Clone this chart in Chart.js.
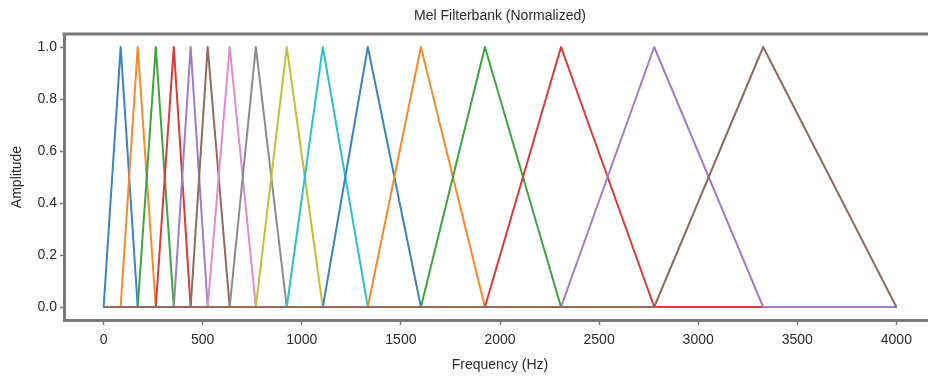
<!DOCTYPE html>
<html>
<head>
<meta charset="utf-8">
<title>Mel Filterbank</title>
<script src="https://cdn.jsdelivr.net/npm/chart.js@4.4.0/dist/chart.umd.min.js"></script>
<style>
  html, body { margin: 0; padding: 0; background: #fff; overflow: hidden; }
  #wrap { width: 940px; height: 377px; }
</style>
</head>
<body>
<div id="wrap"><canvas id="melChart" width="940" height="377"></canvas></div>
<script>
// band edges of the 16 filters (Hz): filter k spans edges[k-1]..edges[k+1], peak at edges[k]
const edgesHz = [0, 86, 172, 263, 354, 439, 525, 636, 768, 924, 1106, 1333, 1601, 1924, 2308, 2778, 3328, 4000];
const peakAmp = 1.0;
const fMax = 4000;
const xTicks = [0, 500, 1000, 1500, 2000, 2500, 3000, 3500, 4000];
const yTicks = [0, 0.2, 0.4, 0.6, 0.8, 1.0];
const filterColors = ['#3b84c0', '#f58a2c', '#3ea43e', '#d93a3b', '#9d7ec6', '#8f6a5e', '#e38acb', '#8a8a8a', '#c0c032', '#2fc0ce'];

const FONT = "'Liberation Sans', Arial, sans-serif";
const TXT = '#2a2a2a';
const SPINE = '#7a7a7a';

const datasets = [];
for (let k = 1; k < edgesHz.length - 1; k++) {
  const i = k - 1;
  datasets.push({
    label: 'filter ' + k,
    data: [
      {x: 0, y: 0},
      {x: edgesHz[k - 1], y: 0},
      {x: edgesHz[k], y: peakAmp},
      {x: edgesHz[k + 1], y: 0},
      {x: fMax, y: 0}
    ],
    showLine: true,
    borderColor: filterColors[i % filterColors.length],
    borderWidth: 2,
    borderJoinStyle: 'round',
    pointRadius: 0,
    tension: 0,
    fill: false,
    order: edgesHz.length - 2 - i  // later filters drawn on top, like matplotlib
  });
}

// top spine (right one falls outside the cropped picture)
const topSpine = {
  id: 'topSpine',
  afterDraw(chart) {
    const {ctx, chartArea: a} = chart;
    ctx.save();
    ctx.strokeStyle = SPINE;
    ctx.lineWidth = 3;
    ctx.beginPath();
    ctx.moveTo(a.left - 1.5, a.top);
    ctx.lineTo(a.right, a.top);
    ctx.stroke();
    ctx.restore();
  }
};

new Chart(document.getElementById('melChart'), {
  type: 'scatter',
  data: {datasets},
  options: {
    responsive: false,
    animation: false,
    devicePixelRatio: 1,
    layout: {padding: {left: 0, right: 4, top: 0, bottom: 0}},
    plugins: {
      legend: {display: false},
      tooltip: {enabled: false},
      title: {
        display: true,
        text: 'Mel Filterbank (Normalized)',
        fullSize: false,
        color: TXT,
        font: {family: FONT, size: 14, weight: 'normal'},
        padding: {top: 8, bottom: 9.2}
      }
    },
    scales: {
      x: {
        type: 'linear',
        min: -200,
        max: 4200,
        afterBuildTicks: s => { s.ticks = xTicks.map(v => ({value: v})); },
        afterFit: s => { s.height = 57; },
        ticks: {color: TXT, font: {family: FONT, size: 14}, padding: 7, maxRotation: 0, autoSkip: false, callback: v => String(v)},
        grid: {drawOnChartArea: false, drawTicks: true, tickLength: 5, tickWidth: 1.5, color: SPINE},
        border: {display: true, color: SPINE, width: 3},
        title: {display: true, text: 'Frequency (Hz)', color: TXT, font: {family: FONT, size: 14}, padding: {top: 0, bottom: 3}}
      },
      y: {
        min: -0.05,
        max: 1.05,
        afterBuildTicks: s => { s.ticks = yTicks.map(v => ({value: v})); },
        afterFit: s => { s.width = 64; },
        ticks: {color: TXT, font: {family: FONT, size: 14}, padding: 3, callback: v => v.toFixed(1)},
        grid: {drawOnChartArea: false, drawTicks: true, tickLength: 4, tickWidth: 1.5, color: SPINE},
        border: {display: true, color: SPINE, width: 3},
        title: {display: true, text: 'Amplitude', color: TXT, font: {family: FONT, size: 14}, padding: {top: 9, bottom: 0}}
      }
    }
  },
  plugins: [topSpine]
});
</script>
</body>
</html>
